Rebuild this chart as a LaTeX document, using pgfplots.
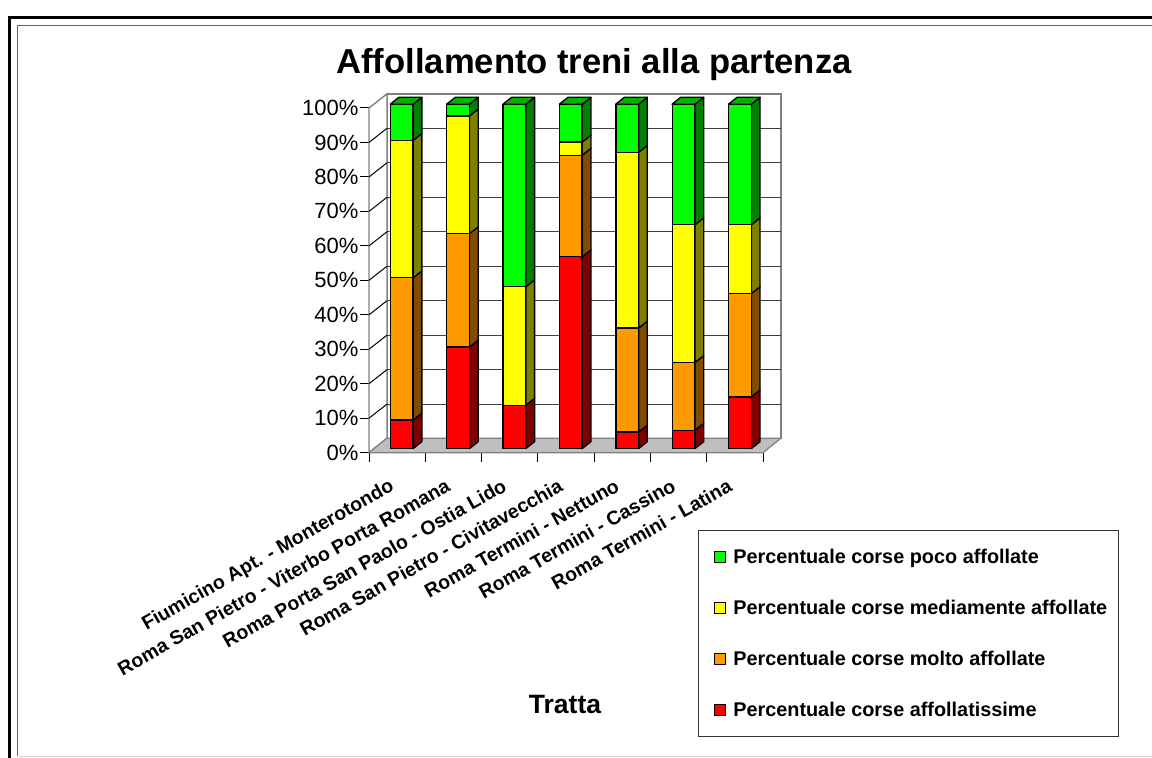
\documentclass[border=0pt]{standalone}
\usepackage{fontspec}
\setmainfont{Liberation Sans}
\usepackage{pgfplots}
\usepackage{pgfplotstable}
\pgfplotsset{compat=1.18}
\definecolor{cRed}{HTML}{FF0000}\definecolor{sRed}{HTML}{800000}
\definecolor{cOra}{HTML}{FF9900}\definecolor{sOra}{HTML}{804C00}
\definecolor{cYel}{HTML}{FFFF00}\definecolor{sYel}{HTML}{808000}
\definecolor{cGre}{HTML}{00FF00}\definecolor{sGre}{HTML}{008000}
\definecolor{tGre}{HTML}{00B300}
\pgfplotstableread{
cat red orange yellow green
1 8.3 41.3 39.9 10.5
2 29.5 32.9 34.2 3.4
3 12.6 0 34.4 53.0
4 55.7 29.5 3.8 11.0
5 4.8 30.2 51.0 14.0
6 5.3 19.7 40.0 35.0
7 15.0 30.0 20.0 35.0
}\datatable
\newcommand\face[4]{% xright, lo, hi, colour
  \pgfmathsetmacro\xa{#1}\pgfmathsetmacro\xb{#1+0.154}
  \pgfmathsetmacro\la{#2}\pgfmathsetmacro\lb{#2+2}
  \pgfmathsetmacro\ha{#3}\pgfmathsetmacro\hb{#3+2}
  \addplot[fill=#4,draw=black,line width=1.3pt,line join=round,forget plot]
    coordinates {(\xa,\la)(\xb,\lb)(\xb,\hb)(\xa,\ha)} -- cycle;
}
\pgfplotsset{swatch/.style={legend image code/.code={\path[draw=none,fill=none] (-7pt,0pt) -- (0pt,0pt);\draw[black,line width=1.1pt,fill=#1] (0pt,-5.5pt) rectangle (11pt,5.5pt);}}}
\begin{document}
\begin{tikzpicture}[x=1pt,y=1pt]
\path[use as bounding box] (0,0) rectangle (1152,758);
% frames
\draw[black,line width=3pt] (9.5,0) -- (9.5,740.5) -- (1152,740.5);
\draw[gray!80!black,line width=1.2pt] (17.5,2) -- (17.5,732.5) -- (1152,732.5);
\draw[gray!35,line width=1pt] (17.5,1.8) -- (1152,1.8);
% frame axis: walls, floor, grid, y ticks
\begin{axis}[at={(369pt,305.3pt)},anchor=south west,scale only axis,width=394pt,height=344.7pt,
  xmin=0,xmax=7,ymin=0,ymax=100,clip=false,
  axis x line=bottom,axis y line=left,axis line style={-,black,line width=1pt},
  xtick={0,...,7},xticklabels={},
  ytick={0,10,...,100},
  yticklabel={\pgfmathprintnumber{\tick}\%},
  /pgf/number format/assume math mode=true,
  yticklabel style={font=\fontsize{22}{26}\selectfont,xshift=2pt},
  tick style={black,line width=1pt},
  major tick length=9pt,
  tick align=outside]
\addplot[fill=white,draw=gray,line width=1.4pt,forget plot] coordinates {(0.32,4.2)(7.32,4.2)(7.32,104.1)(0.32,104.1)} -- cycle;
\addplot[fill=white,draw=gray,line width=1.4pt,forget plot] coordinates {(0,0)(0.32,4.2)(0.32,104.1)(0,100)} -- cycle;
\pgfplotsinvokeforeach{10,20,30,40,50,60,70,80,90}{
  \pgfmathsetmacro\gy{#1+4.1}
  \addplot[color=black!75,line width=1.1pt,forget plot] coordinates {(0.32,\gy)(7.32,\gy)};
  \addplot[color=black,line width=1pt,forget plot] coordinates {(0,#1)(0.32,\gy)};
}
\addplot[fill=black!25,draw=gray,line width=1.2pt,forget plot] coordinates {(0,0)(7,0)(7.32,4.2)(0.32,4.2)} -- cycle;
\end{axis}
% side and top faces of the bars
\begin{axis}[at={(369pt,305.3pt)},anchor=south west,scale only axis,width=394pt,height=344.7pt,
  xmin=0.42,xmax=7.41,ymin=-1.2,ymax=98.9,clip=false,hide axis]
\pgfplotsforeachungrouped \i in {0,...,6}{
  \pgfplotstablegetelem{\i}{red}\of\datatable \let\vr\pgfplotsretval
  \pgfplotstablegetelem{\i}{orange}\of\datatable \let\vo\pgfplotsretval
  \pgfplotstablegetelem{\i}{yellow}\of\datatable \let\vy\pgfplotsretval
  \pgfplotstablegetelem{\i}{green}\of\datatable \let\vg\pgfplotsretval
  \pgfmathsetmacro\xr{\i+1+0.204}
  \pgfmathsetmacro\xl{\i+1-0.204}
  \pgfmathsetmacro\ca{\vr}
  \pgfmathsetmacro\cb{\vr+\vo}
  \pgfmathsetmacro\cc{\vr+\vo+\vy}
  \pgfmathsetmacro\cd{\vr+\vo+\vy+\vg}
  \face{\xr}{0}{\ca}{sRed}
  \face{\xr}{\ca}{\cb}{sOra}
  \face{\xr}{\cb}{\cc}{sYel}
  \face{\xr}{\cc}{\cd}{sGre}
  \pgfmathsetmacro\xlb{\xl+0.154}\pgfmathsetmacro\xrb{\xr+0.154}\pgfmathsetmacro\ct{\cd+2}
  \addplot[fill=tGre,draw=black,line width=1.3pt,line join=round,forget plot]
    coordinates {(\xl,\cd)(\xlb,\ct)(\xrb,\ct)(\xr,\cd)} -- cycle;
}
\end{axis}
% bars
\begin{axis}[at={(369pt,305.3pt)},anchor=south west,scale only axis,width=394pt,height=344.7pt,
  xmin=0.42,xmax=7.41,ymin=-1.2,ymax=98.9,clip=false,
  ybar stacked,bar width=22.6pt,
  axis y line=none,axis x line=bottom,axis line style={draw=none,-},
  xtick={1,...,7},
  major tick length=0pt,
  xticklabels={Fiumicino Apt. - Monterotondo,Roma San Pietro - Viterbo Porta Romana,Roma Porta San Paolo - Ostia Lido,Roma San Pietro - Civitavecchia,Roma Termini - Nettuno,Roma Termini - Cassino,Roma Termini - Latina},
  xticklabel style={font=\fontsize{19.5}{23}\selectfont\bfseries,rotate=29.5,anchor=north east,inner sep=0pt,xshift=-24pt,yshift=-15pt},
  reverse legend,
  legend cell align=left,
  legend style={at={(0.8358,-0.225)},anchor=north west,draw=black!80,line width=0.9pt,
    font=\fontsize{19.85}{23}\selectfont\bfseries,
    inner xsep=9pt,inner ysep=16.5pt,row sep=31pt,
    /tikz/every odd column/.append style={column sep=5pt}}]
\addplot[fill=cRed,draw=black,line width=1.3pt,swatch=cRed] table[x=cat,y=red]{\datatable};
\addplot[fill=cOra,draw=black,line width=1.3pt,swatch=cOra] table[x=cat,y=orange]{\datatable};
\addplot[fill=cYel,draw=black,line width=1.3pt,swatch=cYel] table[x=cat,y=yellow]{\datatable};
\addplot[fill=cGre,draw=black,line width=1.3pt,swatch=cGre] table[x=cat,y=green]{\datatable};
\legend{Percentuale corse affollatissime,Percentuale corse molto affollate,Percentuale corse mediamente affollate,Percentuale corse poco affollate}
\end{axis}
\node[font=\fontsize{34.6}{40}\selectfont\bfseries,anchor=center] at (594,693) {Affollamento treni alla partenza};
\node[font=\fontsize{26.5}{31}\selectfont\bfseries,anchor=center] at (565,53) {Tratta};
\end{tikzpicture}
\end{document}
